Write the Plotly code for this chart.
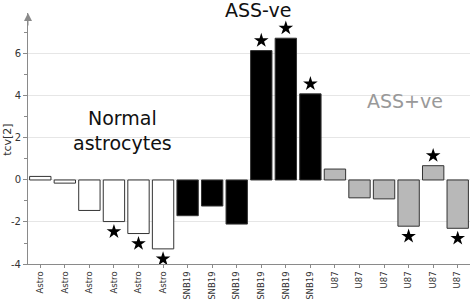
import plotly.graph_objects as go

categories = ["Astro"] * 6 + ["SNB19"] * 6 + ["U87"] * 6
values = [0.17, -0.15, -1.45, -1.98, -2.55, -3.28,
          -1.70, -1.24, -2.10, 6.16, 6.75, 4.10,
          0.52, -0.85, -0.90, -2.20, 0.68, -2.30]
significant = [False, False, False, True, True, True,
               False, False, False, True, True, True,
               False, False, False, True, True, True]
group_fill = {"Astro": "#ffffff", "SNB19": "#000000", "U87": "#b8b8b8"}
ytick_vals = [-4, -2, 0, 2, 4, 6]
ytick_text = ["-4", "-2", "0", "2", "4", "6"]

FONT = "DejaVu Sans"
AXIS = "#8a8a8a"
STAR_OFFSET = 0.48

x = list(range(len(categories)))
fig = go.Figure()
fig.add_trace(go.Bar(
    x=x, y=values,
    marker=dict(color=[group_fill[c] for c in categories],
                line=dict(color="#333333", width=1)),
    width=0.87, showlegend=False, hoverinfo="skip",
))

sx = [xi for xi, s in zip(x, significant) if s]
sy = [v + (STAR_OFFSET if v > 0 else -STAR_OFFSET) for v, s in zip(values, significant) if s]
fig.add_trace(go.Scatter(
    x=sx, y=sy, mode="markers",
    marker=dict(symbol="star", size=11, color="#000000", line=dict(width=0)),
    showlegend=False, hoverinfo="skip", cliponaxis=False,
))

fig.update_layout(
    width=472, height=299,
    margin=dict(l=28, r=2, t=13, b=35),
    paper_bgcolor="white", plot_bgcolor="white",
    font=dict(family=FONT, size=10, color="#333333"),
    xaxis=dict(
        range=[-0.5, len(categories) - 0.5],
        tickmode="array", tickvals=x, ticktext=categories,
        tickangle=-90, ticks="outside", ticklen=3, tickcolor=AXIS,
        showline=True, linecolor=AXIS, linewidth=1,
        showgrid=False, zeroline=False, automargin=False,
        tickfont=dict(family=FONT, size=8.5, color="#333333"),
    ),
    yaxis=dict(
        range=[-4, 7.95],
        tickmode="array", tickvals=ytick_vals, ticktext=ytick_text,
        ticks="outside", ticklen=4, tickcolor=AXIS,
        minor=dict(tickvals=[-3, -1, 1, 3, 5, 7], ticks="outside", ticklen=3,
                   tickcolor=AXIS, showgrid=False),
        showline=True, linecolor=AXIS, linewidth=1,
        showgrid=True, gridcolor="#e6e6e6", gridwidth=1,
        zeroline=True, zerolinecolor="#e6e6e6", zerolinewidth=1,
        automargin=False,
        tickfont=dict(family=FONT, size=10, color="#333333"),
    ),
    annotations=[
        dict(x=0, xref="paper", y=7.95, yref="y", ax=0, ay=14,
             showarrow=True, arrowhead=2, arrowsize=1.6, arrowwidth=1,
             arrowcolor=AXIS, text=""),
        dict(x=-0.048, xref="paper", xanchor="center", y=1.9, yref="y",
             text="tcv[2]", textangle=-90, showarrow=False,
             font=dict(family=FONT, size=11, color="#333333")),
        dict(x=3.35, xref="x", y=2.35, yref="y", text="Normal<br>astrocytes",
             showarrow=False, font=dict(family=FONT, size=19, color="#111111")),
        dict(x=8.85, xref="x", y=1.012, yref="paper", yanchor="middle", text="ASS-ve",
             showarrow=False, font=dict(family=FONT, size=19, color="#111111")),
        dict(x=14.85, xref="x", y=3.75, yref="y", text="ASS+ve",
             showarrow=False, font=dict(family=FONT, size=19, color="#999999")),
    ],
)

fig.write_html("out.html", config={"displayModeBar": False},
               post_script="document.body.style.margin='0px';")
